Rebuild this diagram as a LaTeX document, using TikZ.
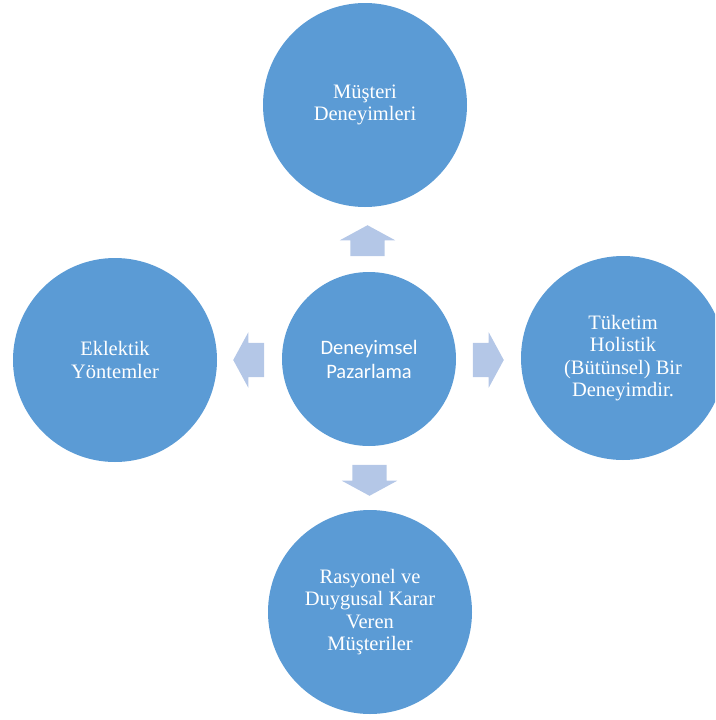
\documentclass[tikz,border=0pt]{standalone}
\usepackage{fontspec}
\setmainfont{Liberation Serif}
\newfontfamily\calibri{Carlito}
\usetikzlibrary{shapes.arrows}
\definecolor{bubblefill}{HTML}{5B9BD5}
\definecolor{arrowfill}{HTML}{B4C7E7}
\tikzset{
  bubble/.style={circle, fill=bubblefill, minimum size=204pt, inner sep=0pt, align=center, text=white, font=\fontsize{20.5}{22.5}\selectfont},
  blockarrow/.style={single arrow, fill=arrowfill, minimum height=31pt, inner xsep=0pt, inner ysep=17pt, single arrow head extend=10.5pt, single arrow tip angle=123, anchor=tip}
}

\begin{document}
\begin{tikzpicture}[x=1pt, y=-1pt]
\useasboundingbox (0,0) rectangle (715,720);
\clip (0,0) rectangle (715,720);
\node[bubble, minimum size=174pt, font=\calibri\fontsize{20.5}{24}\selectfont] (core) at (369,359) {Deneyimsel\\Pazarlama};
\node[bubble] (customer) at (365,105) {Müşteri\\Deneyimleri};
\node[bubble] (holistic) at (623,358) {Tüketim\\Holistik\\(Bütünsel) Bir\\Deneyimdir.};
\node[bubble] (decision) at (370,612) {Rasyonel ve\\Duygusal Karar\\Veren\\Müşteriler};
\node[bubble] (eclectic) at (115,360) {Eklektik\\Yöntemler};
\node[blockarrow, rotate=90] (toup) at (367.5,225) {};
\node[blockarrow] (toright) at (504,360) {};
\node[blockarrow, rotate=-90] (todown) at (369.5,496) {};
\node[blockarrow, rotate=180] (toleft) at (233,360) {};
\end{tikzpicture}
\end{document}
